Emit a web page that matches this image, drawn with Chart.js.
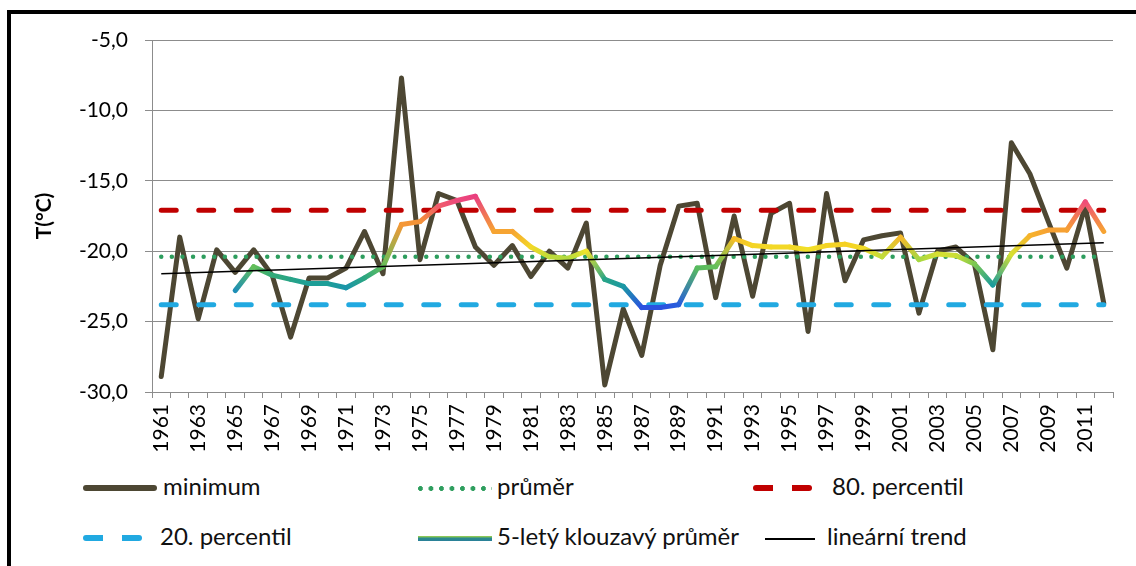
<!DOCTYPE html>
<html lang="cs">
<head>
    <meta charset="UTF-8">
    <title>Minimální teplota</title>
    <script src="https://cdn.jsdelivr.net/npm/chart.js"></script>
    <style>
        body { margin: 0; width: 1136px; height: 566px; overflow: hidden; background: #fff; font-family: Lato, "Liberation Sans", sans-serif; position: relative; }
        .frame { position: absolute; left: 7px; top: 10px; width: 1160px; height: 620px; border: 4px solid #000; }
        .chart-box { position: absolute; left: 0; top: 0; width: 1136px; height: 470px; }
        .leg { position: absolute; font-size: 24px; line-height: 24px; color: #111; white-space: nowrap; }
        .sample { position: absolute; }
        .solid { height: 6px; background: #4d4733; border-radius: 3px; }
        .dots { height: 5px; background: radial-gradient(circle at 2.5px 2.5px, #2e9e5e 2.2px, transparent 2.6px) 0 0 / 10.5px 5px repeat-x; }
        .dash-red { height: 6px; background: repeating-linear-gradient(90deg, #c00000 0 20px, transparent 20px 39px); border-radius: 3px; }
        .dash-blue { height: 6px; background: repeating-linear-gradient(90deg, #21a9e1 0 20px, transparent 20px 39px); border-radius: 3px; }
        .grad { height: 5px; background: linear-gradient(#a8d848, #2a8c8c 45%, #2a7f9a); }
        .thin { height: 1.5px; background: #000; }
    </style>
</head>
<body>
    <div class="frame"></div>
    <div class="chart-box"><canvas id="c" width="1136" height="470"></canvas></div>

    <div class="sample solid" style="left:83px; top:485px; width:74px;"></div>
    <div class="leg" style="left:163px; top:474px;">minimum</div>
    <div class="sample dots" style="left:418px; top:486px; width:74px;"></div>
    <div class="leg" style="left:497px; top:474px;">průměr</div>
    <div class="sample dash-red" style="left:753px; top:485px; width:59px;"></div>
    <div class="leg" style="left:832px; top:474px;">80. percentil</div>

    <div class="sample dash-blue" style="left:83px; top:535px; width:59px;"></div>
    <div class="leg" style="left:160px; top:524px;">20. percentil</div>
    <div class="sample grad" style="left:418px; top:536px; width:74px;"></div>
    <div class="leg" style="left:497px; top:524px;">5-letý klouzavý průměr</div>
    <div class="sample thin" style="left:765px; top:538px; width:50px;"></div>
    <div class="leg" style="left:827px; top:524px;">lineární trend</div>

    <script>
        const years = ['1961','1962','1963','1964','1965','1966','1967','1968','1969','1970',
            '1971','1972','1973','1974','1975','1976','1977','1978','1979','1980',
            '1981','1982','1983','1984','1985','1986','1987','1988','1989','1990',
            '1991','1992','1993','1994','1995','1996','1997','1998','1999','2000',
            '2001','2002','2003','2004','2005','2006','2007','2008','2009','2010',
            '2011','2012'];

        const minimum = [-28.9, -19.0, -24.8, -19.9, -21.5, -19.9, -21.7, -26.1, -21.9, -21.9,
            -21.2, -18.6, -21.6, -7.7, -20.6, -15.9, -16.4, -19.7, -21.0, -19.6,
            -21.8, -20.0, -21.2, -18.0, -29.5, -24.1, -27.4, -21.0, -16.8, -16.6,
            -23.3, -17.5, -23.2, -17.3, -16.6, -25.7, -15.9, -22.1, -19.2, -18.9,
            -18.7, -24.4, -20.0, -19.7, -20.9, -27.0, -12.3, -14.5, -17.9, -21.2,
            -16.8, -23.7];

        // 5-letý klouzavý průměr (od 1965)
        const movingAvg = [null, null, null, null, -22.8, -21.1, -21.7, -22.0, -22.3, -22.3,
            -22.6, -21.9, -21.1, -18.1, -17.9, -16.8, -16.4, -16.1, -18.6, -18.6,
            -19.7, -20.4, -20.5, -20.0, -22.0, -22.5, -24.0, -24.0, -23.8, -21.2,
            -21.1, -19.1, -19.6, -19.7, -19.7, -19.9, -19.6, -19.5, -19.8, -20.4,
            -19.0, -20.6, -20.2, -20.3, -20.9, -22.4, -20.2, -18.9, -18.5, -18.5,
            -16.5, -18.6];

        const mean = -20.4;
        const p80 = -17.1;
        const p20 = -23.8;
        const trendStart = -21.6;   // 1961
        const trendEnd = -19.4;     // 2012

        const yTicks = [-30, -25, -20, -15, -10, -5];

        // barevna skala klouzaveho prumeru podle hodnoty
        const colorStops = [
            [-24.0, '#2b52e0'], [-23.2, '#1f80d0'], [-22.4, '#1a9c9c'], [-21.4, '#3cb068'],
            [-20.6, '#a6d842'], [-20.0, '#f0e42a'], [-19.4, '#f6cc22'], [-18.6, '#f6a432'],
            [-17.6, '#f28a3a'], [-16.6, '#f05078'], [-16.0, '#e83c80']
        ];
        function hexToRgb(h) { return [parseInt(h.substr(1,2),16), parseInt(h.substr(3,2),16), parseInt(h.substr(5,2),16)]; }
        function colorFor(v) {
            if (v <= colorStops[0][0]) return colorStops[0][1];
            for (let i = 1; i < colorStops.length; i++) {
                if (v <= colorStops[i][0]) {
                    const [a, ca] = colorStops[i-1], [b, cb] = colorStops[i];
                    const t = (v - a) / (b - a), x = hexToRgb(ca), y = hexToRgb(cb);
                    return 'rgb(' + x.map((c, k) => Math.round(c + (y[k] - c) * t)).join(',') + ')';
                }
            }
            return colorStops[colorStops.length - 1][1];
        }

        const first = years[0], last = years[years.length - 1];
        const flat = v => [{x: first, y: v}, {x: last, y: v}];

        new Chart(document.getElementById('c'), {
            type: 'line',
            data: {
                labels: years,
                datasets: [
                    { label: 'lineární trend', data: [{x: first, y: trendStart}, {x: last, y: trendEnd}],
                      borderColor: '#000', borderWidth: 1.3, pointRadius: 0, order: 0 },
                    { label: '5-letý klouzavý průměr', data: movingAvg, borderWidth: 5, pointRadius: 0,
                      borderCapStyle: 'round', borderJoinStyle: 'round', order: 1, borderColor: '#2a8c8c',
                      segment: {
                          borderColor: ctx => {
                              const g = ctx.chart.ctx.createLinearGradient(ctx.p0.x, ctx.p0.y, ctx.p1.x, ctx.p1.y);
                              g.addColorStop(0, colorFor(movingAvg[ctx.p0DataIndex]));
                              g.addColorStop(1, colorFor(movingAvg[ctx.p1DataIndex]));
                              return g;
                          }
                      } },
                    { label: '20. percentil', data: flat(p20), borderColor: '#21a9e1', borderWidth: 5,
                      borderDash: [15, 22.5], borderCapStyle: 'round', pointRadius: 0, order: 2 },
                    { label: '80. percentil', data: flat(p80), borderColor: '#c00000', borderWidth: 5,
                      borderDash: [15, 22.5], borderCapStyle: 'round', pointRadius: 0, order: 3 },
                    { label: 'průměr', data: flat(mean), borderColor: '#2e9e5e', borderWidth: 4.5,
                      borderDash: [0, 10.6], borderCapStyle: 'round', pointRadius: 0, order: 4 },
                    { label: 'minimum', data: minimum, borderColor: '#4d4733', borderWidth: 5,
                      borderJoinStyle: 'round', borderCapStyle: 'round', pointRadius: 0, order: 5 }
                ]
            },
            options: {
                responsive: false,
                animation: false,
                layout: { padding: { left: 32, top: 40, right: 23, bottom: 0 } },
                plugins: { legend: { display: false }, tooltip: { enabled: false } },
                scales: {
                    x: {
                        offset: true,
                        afterFit: s => { s.height = 78; },
                        grid: { offset: true, drawOnChartArea: false, drawTicks: true, tickLength: 6, color: '#8c8c8c' },
                        border: { color: '#8c8c8c' },
                        ticks: {
                            autoSkip: false, minRotation: 90, maxRotation: 90, padding: 6,
                            color: '#000', font: { family: 'Lato', size: 21 },
                            callback: (v, i) => i % 2 === 0 ? years[i] : ''
                        }
                    },
                    y: {
                        min: yTicks[0], max: yTicks[yTicks.length - 1],
                        afterFit: s => { s.width = 120; },
                        afterBuildTicks: s => { s.ticks = yTicks.map(v => ({ value: v })); },
                        grid: { color: '#8c8c8c', tickLength: 7 },
                        border: { color: '#8c8c8c' },
                        title: { display: true, text: 'T(°C)', color: '#000', padding: 0,
                                 font: { family: 'Lato', size: 21, weight: 'bold' } },
                        ticks: {
                            padding: 17, color: '#000', font: { family: 'Lato', size: 21 },
                            callback: v => v.toFixed(1).replace('.', ',')
                        }
                    }
                }
            }
        });
    </script>
</body>
</html>
